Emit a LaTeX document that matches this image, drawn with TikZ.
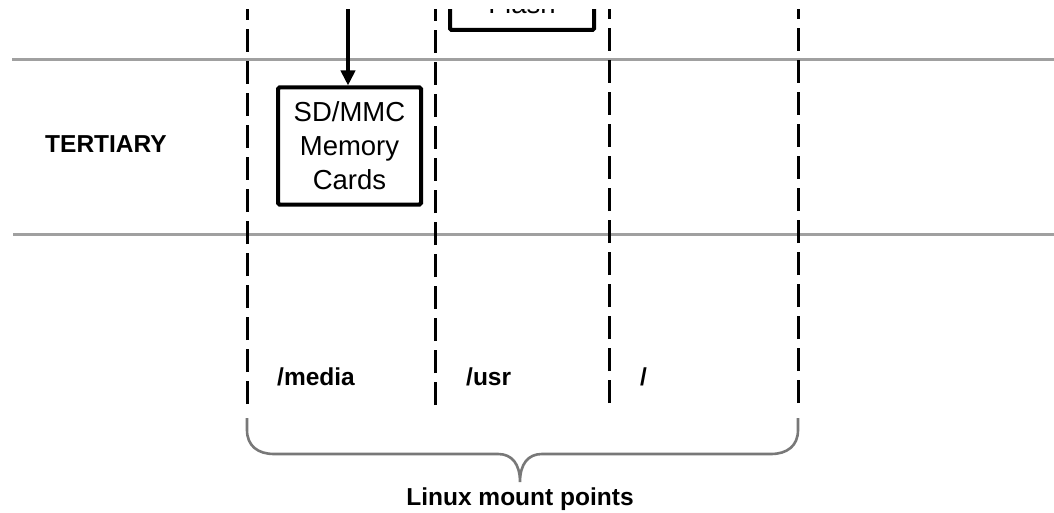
\documentclass[tikz,border=0pt]{standalone}
\usepackage{fontspec}
\setmainfont{Liberation Sans}
\usetikzlibrary{arrows.meta}
\definecolor{hgray}{RGB}{160,160,160}
\definecolor{bgray}{RGB}{120,120,120}
\tikzset{
  hline/.style={draw=hgray, line width=3pt},
  vdash/.style={draw=black, line width=3pt, dash pattern=on 23pt off 9pt},
  boxnode/.style={draw=black, line width=4pt, rounded corners=1.5pt, align=center,
    font=\fontsize{27.5pt}{34pt}\selectfont, inner sep=0pt},
  lbl/.style={font=\fontsize{24.5pt}{28pt}\selectfont\bfseries, inner sep=0pt},
  flow/.style={draw=black, line width=4.5pt, -{Triangle[length=15pt,width=14pt]}},
  bracepath/.style={draw=bgray, line width=2.6pt}
}
\begin{document}
\begin{tikzpicture}[x=1pt,y=-1pt]
\useasboundingbox[fill=white] (0,0) rectangle (1054,513);
\clip (0,10) rectangle (1054,513);
% tier separators
\draw[hline] (12,60) -- (1054,60);
\draw[hline] (13,234) -- (1054,234);
% mount-point dashed separators (drawn upward so bottom dash is full)
\draw[vdash] (247,404) -- (247,-5);
\draw[vdash] (435,405) -- (435,-5);
\draw[vdash] (609,403) -- (609,-5);
\draw[vdash] (798,403) -- (798,-5);
% boxes
\node[boxnode, minimum width=144pt, minimum height=52pt] (flash) at (522,4) {Flash};
\node[boxnode, minimum width=143pt, minimum height=117pt] (sd) at (349.5,146) {SD/MMC\\Memory\\Cards};
% arrow from above
\coordinate (src) at (348,-10);
\draw[flow] (src) -- (sd.north -| src);
% labels
\node[lbl, anchor=base west] (tert) at (45,153) {TERTIARY};
\node[lbl, anchor=base west] (media) at (277,385) {/media};
\node[lbl, anchor=base west] (usr) at (466,385) {/usr};
\node[lbl, anchor=base west] (root) at (640,385) {/};
% brace
\draw[bracepath] (247,418) -- (247,430) .. controls (247,446) and (258,454) .. (274,454)
  -- (498,454) .. controls (512,454) and (520,464) .. (520,482)
  .. controls (520,464) and (528,454) .. (542,454)
  -- (771,454) .. controls (787,454) and (798,446) .. (798,430) -- (798,418);
\node[lbl, anchor=base] (linux) at (520,505) {Linux mount points};
\end{tikzpicture}
\end{document}
